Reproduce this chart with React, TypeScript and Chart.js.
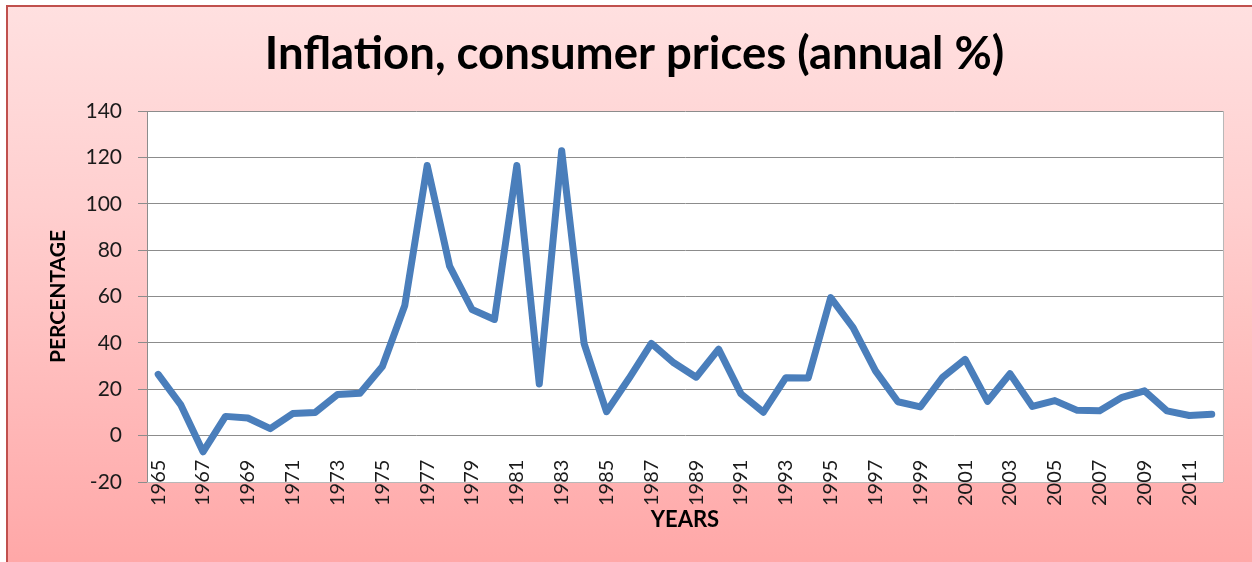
import React, { useEffect, useRef } from "react";
import { Chart, registerables } from "chart.js";

Chart.register(...registerables);

const years: string[] = [
  "1965","1966","1967","1968","1969","1970","1971","1972","1973","1974",
  "1975","1976","1977","1978","1979","1980","1981","1982","1983","1984",
  "1985","1986","1987","1988","1989","1990","1991","1992","1993","1994",
  "1995","1996","1997","1998","1999","2000","2001","2002","2003","2004",
  "2005","2006","2007","2008","2009","2010","2011","2012",
];

const inflation: number[] = [
  26.4, 13.4, -7.0, 8.3, 7.6, 3.0, 9.5, 10.0, 17.7, 18.3,
  29.8, 56.1, 116.5, 73.1, 54.4, 50.1, 116.5, 22.3, 122.9, 39.7,
  10.3, 24.6, 39.8, 31.4, 25.2, 37.3, 18.0, 10.1, 25.0, 24.9,
  59.5, 46.6, 27.9, 14.6, 12.4, 25.2, 32.9, 14.8, 26.7, 12.6,
  15.1, 10.9, 10.7, 16.5, 19.3, 10.7, 8.7, 9.2,
];

const yTicks = { min: -20, max: 140, step: 20 };

const TITLE = "Inflation, consumer prices (annual %)";
const Y_TITLE = "PERCENTAGE";
const X_TITLE = "YEARS";

const plotBg = {
  id: "plotBg",
  beforeDraw(chart: any) {
    const { ctx, chartArea } = chart;
    if (!chartArea) return;
    ctx.save();
    ctx.fillStyle = "#ffffff";
    ctx.fillRect(chartArea.left, chartArea.top, chartArea.right - chartArea.left, chartArea.bottom - chartArea.top);
    ctx.restore();
  },
  afterDraw(chart: any) {
    const { ctx, chartArea } = chart;
    ctx.save();
    ctx.strokeStyle = "#b8b8b8";
    ctx.lineWidth = 1;
    ctx.beginPath();
    ctx.moveTo(Math.round(chartArea.right) + 0.5, chartArea.top);
    ctx.lineTo(Math.round(chartArea.right) + 0.5, chartArea.bottom);
    ctx.moveTo(chartArea.left, Math.round(chartArea.bottom) + 0.5);
    ctx.lineTo(chartArea.right, Math.round(chartArea.bottom) + 0.5);
    ctx.stroke();
    ctx.restore();
  },
};

export default function App() {
  const ref = useRef<HTMLCanvasElement>(null);

  useEffect(() => {
    if (!ref.current) return;
    const chart = new Chart(ref.current, {
      type: "line",
      data: {
        labels: years,
        datasets: [
          {
            data: inflation,
            borderColor: "#4a7ebb",
            borderWidth: 7,
            pointRadius: 0,
            tension: 0,
            borderJoinStyle: "round",
            borderCapStyle: "round",
            fill: false,
          },
        ],
      },
      options: {
        responsive: false,
        animation: false,
        events: [],
        layout: { padding: { left: 42, right: 25, top: 10, bottom: 80 } },
        plugins: {
          legend: { display: false },
          tooltip: { enabled: false },
          title: {
            display: true,
            text: TITLE,
            color: "#000000",
            font: { family: "Lato", size: 45.5, weight: "bold", lineHeight: 1.2 },
            padding: { top: 16.7, bottom: 29.7 },
          },
        },
        scales: {
          y: {
            min: yTicks.min,
            max: yTicks.max,
            ticks: {
              stepSize: yTicks.step,
              color: "#1a1a1a",
              padding: 16,
              font: { family: "Lato", size: 21 },
            },
            grid: { color: "#8c8c8c", lineWidth: 1, tickLength: 9, drawTicks: true },
            border: { display: true, color: "#8c8c8c", width: 1 },
            title: {
              display: true,
              text: Y_TITLE,
              color: "#000000",
              font: { family: "Lato", size: 21, weight: "bold", lineHeight: 1.2 },
              padding: { top: 4, bottom: 4 },
            },
            afterFit(scale: any) {
              scale.width = 105;
            },
          },
          x: {
            type: "category",
            position: { y: 0 } as any,
            offset: true,
            grid: { display: false },
            border: { display: false },
            ticks: {
              autoSkip: false,
              minRotation: 90,
              maxRotation: 90,
              padding: 16,
              color: "#1a1a1a",
              font: { family: "Lato", size: 20 },
              callback(_v: any, i: number) {
                return i % 2 === 0 ? years[i] : "";
              },
            },
            title: {
              display: true,
              text: X_TITLE,
              color: "#000000",
              font: { family: "Lato", size: 22, weight: "bold", lineHeight: 1.2 },
              padding: { top: 0, bottom: -17 },
            },
            afterFit(scale: any) {
              scale.height = 80;
            },
          },
        },
      },
      plugins: [plotBg],
    });
    return () => chart.destroy();
  }, []);

  return (
    <div
      style={{
        position: "absolute",
        left: 0,
        top: 0,
        width: 1252,
        height: 562,
        overflow: "hidden",
      }}
    >
      <div
        style={{
          position: "absolute",
          left: 6,
          top: 5,
          width: 1260,
          height: 570,
          borderTop: "2px solid #c0504d",
          borderLeft: "2px solid #c0504d",
          background: "linear-gradient(to bottom, #ffe0e0 0%, #ffcfcf 35%, #ffa6a6 100%)",
        }}
      />
      <canvas
        ref={ref}
        width={1252}
        height={562}
        style={{ position: "absolute", left: 0, top: 0, width: 1252, height: 562 }}
      />
    </div>
  );
}
